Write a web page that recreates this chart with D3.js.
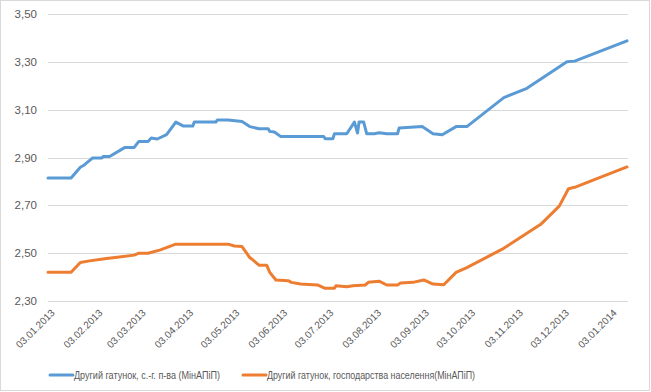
<!DOCTYPE html>
<html>
<head>
<meta charset="utf-8">
<script src="https://cdn.jsdelivr.net/npm/d3@7"></script>
<style>
  body { margin: 0; background: #fff; }
  text { font-family: "Liberation Sans", Arial, sans-serif; fill: #595959; }
</style>
</head>
<body>
<div id="chart"></div>
<script>
// series names
const seriesNames = [
  "Другий гатунок, с.-г. п-ва (МінАПіП)",
  "Другий гатунок, господарства населення(МінАПіП)"
];
const seriesColors = ["#5b9bd5", "#ed7d31"];

// blue: agricultural enterprises
const blueDates = [
  "2013-01-03","2013-01-18","2013-01-24","2013-01-26","2013-02-01","2013-02-07","2013-02-08","2013-02-12",
  "2013-02-22","2013-02-28","2013-03-03","2013-03-09","2013-03-11","2013-03-15","2013-03-21","2013-03-27",
  "2013-04-01","2013-04-07","2013-04-08","2013-04-22","2013-04-23","2013-04-30","2013-05-09","2013-05-14",
  "2013-05-20","2013-05-26","2013-05-27","2013-05-30","2013-06-03","2013-07-01","2013-07-02","2013-07-07",
  "2013-07-08","2013-07-16","2013-07-21","2013-07-23","2013-07-24","2013-07-27","2013-07-29","2013-08-03",
  "2013-08-06","2013-08-11","2013-08-18","2013-08-19","2013-09-03","2013-09-10","2013-09-16","2013-09-25",
  "2013-10-02","2013-10-26","2013-11-10","2013-12-06","2013-12-11","2014-01-14"
];
const blueValues = [
  2.815, 2.815, 2.860, 2.867, 2.899, 2.899, 2.905, 2.905,
  2.943, 2.943, 2.968, 2.968, 2.982, 2.978, 2.996, 3.049,
  3.032, 3.032, 3.049, 3.049, 3.058, 3.058, 3.051, 3.030,
  3.021, 3.021, 3.010, 3.007, 2.989, 2.989, 2.979, 2.979,
  3.000, 3.000, 3.049, 3.003, 3.049, 3.049, 3.000, 3.000,
  3.004, 3.000, 3.000, 3.024, 3.030, 3.000, 2.996, 3.030,
  3.030, 3.151, 3.190, 3.301, 3.304, 3.389
];

// orange: households
const orangeDates = [
  "2013-01-03","2013-01-18","2013-01-24","2013-01-30","2013-02-10","2013-02-17","2013-02-28","2013-03-03",
  "2013-03-09","2013-03-17","2013-03-27","2013-04-30","2013-05-04","2013-05-09","2013-05-14","2013-05-16",
  "2013-05-20","2013-05-25","2013-05-27","2013-05-31","2013-06-08","2013-06-10","2013-06-16","2013-06-27",
  "2013-07-02","2013-07-08","2013-07-09","2013-07-16","2013-07-20","2013-07-28","2013-07-30","2013-08-06",
  "2013-08-11","2013-08-18","2013-08-20","2013-08-28","2013-09-04","2013-09-10","2013-09-17","2013-09-25",
  "2013-10-02","2013-10-25","2013-11-19","2013-12-01","2013-12-07","2013-12-11","2014-01-14"
];
const orangeValues = [
  2.420, 2.420, 2.461, 2.468, 2.478, 2.483, 2.492, 2.500,
  2.500, 2.514, 2.538, 2.538, 2.530, 2.528, 2.482, 2.472,
  2.450, 2.450, 2.420, 2.388, 2.385, 2.378, 2.371, 2.367,
  2.353, 2.353, 2.364, 2.360, 2.364, 2.367, 2.378, 2.383,
  2.367, 2.367, 2.375, 2.378, 2.388, 2.371, 2.368, 2.420,
  2.440, 2.517, 2.621, 2.697, 2.770, 2.776, 2.861
];

const yTicks = [2.30, 2.50, 2.70, 2.90, 3.10, 3.30, 3.50];
const xTickDates = [
  "2013-01-03","2013-02-03","2013-03-03","2013-04-03","2013-05-03","2013-06-03","2013-07-03",
  "2013-08-03","2013-09-03","2013-10-03","2013-11-03","2013-12-03","2014-01-03"
];

const width = 651, height = 392;
const parse = d3.timeParse("%Y-%m-%d");
const fmtDate = d3.timeFormat("%d.%m.%Y");

const svg = d3.select("#chart").append("svg")
  .attr("width", width)
  .attr("height", height);

svg.append("rect")
  .attr("x", 0.5).attr("y", 0.5)
  .attr("width", width - 2).attr("height", height - 2)
  .attr("fill", "#fff")
  .attr("stroke", "#d9d9d9");

const x = d3.scaleTime()
  .domain([parse("2013-01-03"), parse("2014-01-14")])
  .range([48, 627]);

const y = d3.scaleLinear()
  .domain([2.30, 3.50])
  .range([301, 14.3]);

// gridlines
svg.append("g")
  .selectAll("line")
  .data(yTicks)
  .join("line")
  .attr("x1", 48).attr("x2", 628)
  .attr("y1", d => Math.round(y(d)) + 0.5)
  .attr("y2", d => Math.round(y(d)) + 0.5)
  .attr("stroke", "#d9d9d9")
  .attr("stroke-width", 1);

// y labels
svg.append("g")
  .selectAll("text")
  .data(yTicks)
  .join("text")
  .attr("x", 37)
  .attr("y", d => y(d))
  .attr("dy", "0.35em")
  .attr("text-anchor", "end")
  .style("font-size", "11.5px")
  .text(d => d3.format(".2f")(d).replace(".", ","));

// x labels, rotated
svg.append("g")
  .selectAll("text")
  .data(xTickDates.map(parse))
  .join("text")
  .attr("text-anchor", "end")
  .attr("transform", d => `translate(${x(d) + 5},${311}) rotate(-45)`)
  .attr("dy", "0.35em")
  .style("font-size", "10px")
  .text(d => fmtDate(d));

const line = d3.line()
  .x(d => x(d.date))
  .y(d => y(d.value));

const series = [
  blueDates.map((d, i) => ({ date: parse(d), value: blueValues[i] })),
  orangeDates.map((d, i) => ({ date: parse(d), value: orangeValues[i] }))
];

svg.append("g")
  .selectAll("path")
  .data(series)
  .join("path")
  .attr("d", line)
  .attr("fill", "none")
  .attr("stroke", (d, i) => seriesColors[i])
  .attr("stroke-width", 3)
  .attr("stroke-linejoin", "round")
  .attr("stroke-linecap", "round");

// legend
const legendX = [50, 243];
const legend = svg.append("g")
  .selectAll("g")
  .data(seriesNames)
  .join("g")
  .attr("transform", (d, i) => `translate(${legendX[i]},375)`);

legend.append("line")
  .attr("x1", 0).attr("x2", 23)
  .attr("y1", 0).attr("y2", 0)
  .attr("stroke", (d, i) => seriesColors[i])
  .attr("stroke-width", 3)
  .attr("stroke-linecap", "round");

legend.append("text")
  .attr("x", 24)
  .attr("y", 0)
  .attr("dy", "0.35em")
  .style("font-size", "11px")
  .attr("textLength", (d, i) => i === 0 ? 146 : 208)
  .attr("lengthAdjust", "spacingAndGlyphs")
  .text(d => d);
</script>
</body>
</html>
